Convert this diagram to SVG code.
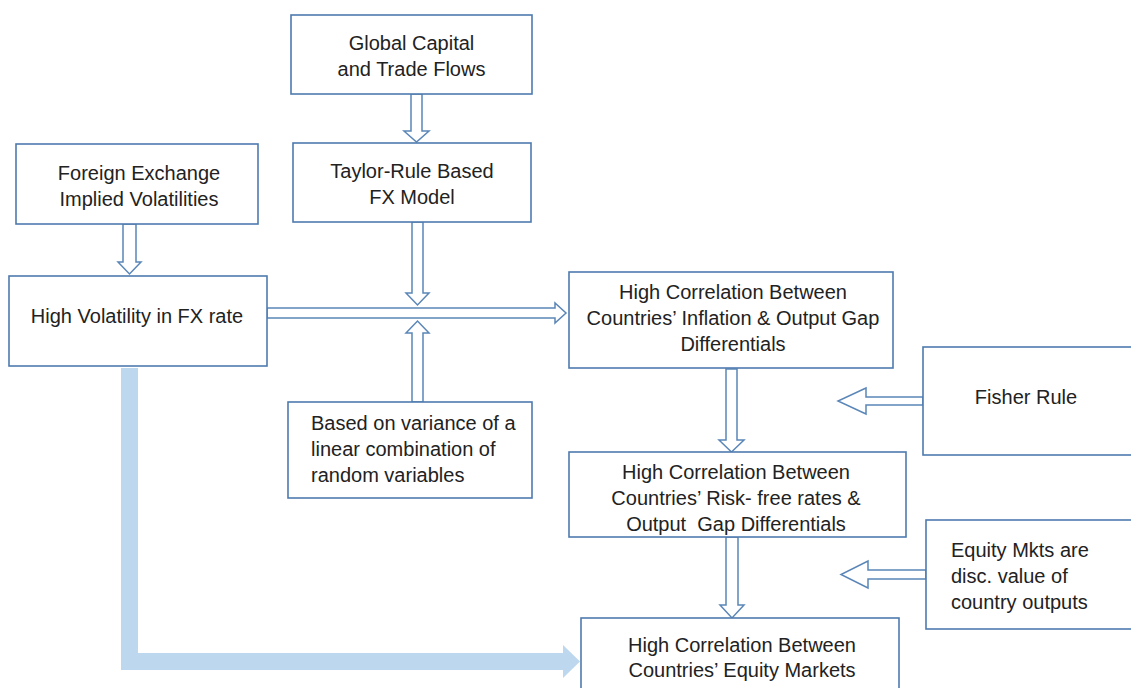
<svg xmlns="http://www.w3.org/2000/svg" width="1131" height="688" viewBox="0 0 1131 688">
<style>
.box{fill:#fff;stroke:#4e7bae;stroke-width:1.6}
.arr{fill:#fff;stroke:#5b86b8;stroke-width:1.5;stroke-linejoin:miter}
.big{fill:#bdd7ee;stroke:none}
text{font-family:"Liberation Sans",Arial,sans-serif;font-size:20px;fill:#222}
.c{text-anchor:middle}
</style>
<rect width="1131" height="688" fill="#fff"/>
<g id="connectors">
<path class="big" d="M121,368 L138,368 L138,653 L563,653 L563,645 L580,661.5 L563,678 L563,670 L121,670 Z"/>
<polygon class="arr" points="411,94 422,94 422,131 429,131 416.5,142 404,131 411,131"/>
<polygon class="arr" points="123,224 136,224 136,262 141,262 129.5,274 118,262 123,262"/>
<polygon class="arr" points="412,222 423,222 423,293 429,293 417.5,305 406,293 412,293"/>
<polygon class="arr" points="412,402 423,402 423,333 429,333 417.5,321 406,333 412,333"/>
<polygon class="arr" points="267,308 555,308 555,303 566,313 555,323 555,318 267,318"/>
<polygon class="arr" points="726,369 737,369 737,440 744,440 731.5,452 719,440 726,440"/>
<polygon class="arr" points="726,537 738,537 738,605 744,605 732,618 720,605 726,605"/>
<polygon class="arr" points="923,397 866,397 866,388 838,401 866,414 866,405 923,405"/>
<polygon class="arr" points="926,570 868,570 868,561 841,574.5 868,588 868,579 926,579"/>
</g>
<g id="global">
<rect class="box" x="291" y="15" width="241" height="79"/>
<text class="c" x="411.5" y="50">Global Capital</text>
<text class="c" x="411.5" y="76">and Trade Flows</text>
</g>
<g id="taylor">
<rect class="box" x="293" y="143" width="238" height="79"/>
<text class="c" x="412" y="178">Taylor-Rule Based</text>
<text class="c" x="412" y="204">FX Model</text>
</g>
<g id="fxvol">
<rect class="box" x="16" y="144" width="242" height="80"/>
<text class="c" x="139" y="180">Foreign Exchange</text>
<text class="c" x="139" y="206">Implied Volatilities</text>
</g>
<g id="highvol">
<rect class="box" x="9" y="276" width="258" height="90"/>
<text class="c" x="137" y="323">High Volatility in FX rate</text>
</g>
<g id="variance">
<rect class="box" x="288" y="402" width="244" height="96"/>
<text x="311" y="430">Based on variance of a</text>
<text x="311" y="456">linear combination of</text>
<text x="311" y="482">random variables</text>
</g>
<g id="inflation">
<rect class="box" x="569" y="272" width="324" height="96"/>
<text class="c" x="733" y="299">High Correlation Between</text>
<text class="c" x="733" y="325">Countries’ Inflation &amp; Output Gap</text>
<text class="c" x="733" y="351">Differentials</text>
</g>
<g id="fisher">
<rect class="box" x="923" y="347" width="220" height="108"/>
<text class="c" x="1026" y="404">Fisher Rule</text>
</g>
<g id="riskfree">
<rect class="box" x="569" y="452" width="337" height="85"/>
<text class="c" x="736" y="479">High Correlation Between</text>
<text class="c" x="736" y="505">Countries’ Risk- free rates &amp;</text>
<text class="c" x="736" y="531" xml:space="preserve">Output  Gap Differentials</text>
</g>
<g id="equitymkts">
<rect class="box" x="926" y="520" width="220" height="109"/>
<text x="951" y="557">Equity Mkts are</text>
<text x="951" y="583">disc. value of</text>
<text x="951" y="609">country outputs</text>
</g>
<g id="equity">
<rect class="box" x="581" y="618" width="318" height="80"/>
<text class="c" x="742" y="652">High Correlation Between</text>
<text class="c" x="742" y="677">Countries’ Equity Markets</text>
</g>
</svg>
